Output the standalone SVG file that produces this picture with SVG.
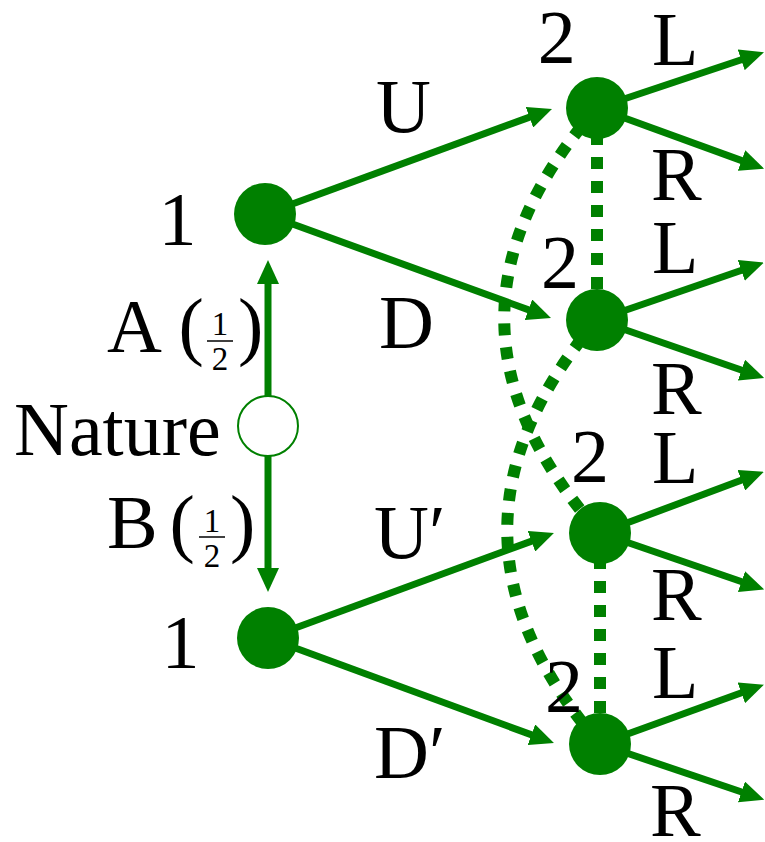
<svg xmlns="http://www.w3.org/2000/svg" width="765" height="842" viewBox="0 0 765 842">
<style>
  .t { font-size: 76px; fill: #000; }
  .f { font-size: 33px; fill: #000; text-anchor: middle; }
  .e { stroke: #008000; stroke-width: 7; fill: none; marker-end: url(#ah); }
  .d { stroke: #008000; stroke-width: 12; fill: none; stroke-dasharray: 12 12; }
  .n { fill: #008000; }
  .bar { stroke: #000; stroke-width: 1.5; }
</style>
<defs>
  <marker id="ah" markerUnits="userSpaceOnUse" viewBox="0 0 24 22" refX="12" refY="11" markerWidth="24" markerHeight="22" orient="auto">
    <path d="M0,0 L24,11 L0,22 Z" fill="#008000"/>
  </marker>
</defs>
<rect width="765" height="842" fill="#fff"/>

<g font-family="Liberation Serif, Times New Roman, serif">
<g id="connectors">
  <path class="d" d="M597,109 L597,320"/>
  <path class="d" d="M600,533 L600,744"/>
  <path class="d" d="M597,108 Q410,320 600,533"/>
  <path class="d" d="M597,320 Q416,532 600,744"/>
  <line class="e" x1="268" y1="396" x2="268" y2="272"/>
  <line class="e" x1="268" y1="456" x2="268" y2="580"/>
  <line class="e" x1="265" y1="214" x2="540.7" y2="113.1"/>
  <line class="e" x1="265" y1="214" x2="539.7" y2="313.9"/>
  <line class="e" x1="268" y1="638" x2="542.7" y2="537.1"/>
  <line class="e" x1="268" y1="638" x2="542.7" y2="738.9"/>
  <line class="e" x1="597" y1="108" x2="752.6" y2="56"/>
  <line class="e" x1="597" y1="108" x2="752.8" y2="164.6"/>
  <line class="e" x1="597" y1="320" x2="752.6" y2="266.5"/>
  <line class="e" x1="597" y1="320" x2="752.8" y2="374"/>
  <line class="e" x1="600" y1="533" x2="752.6" y2="476"/>
  <line class="e" x1="600" y1="533" x2="752.8" y2="585.5"/>
  <line class="e" x1="600" y1="744" x2="752.6" y2="688.8"/>
  <line class="e" x1="600" y1="744" x2="752.8" y2="795.8"/>
  <text class="t" x="376" y="132">U</text>
  <text class="t" x="379" y="348">D</text>
  <text class="t" x="374" y="558">U′</text>
  <text class="t" x="374" y="778">D′</text>
  <text class="t" x="652" y="65">L</text>
  <text class="t" x="651" y="200">R</text>
  <text class="t" x="652" y="273">L</text>
  <text class="t" x="651" y="414">R</text>
  <text class="t" x="652" y="483">L</text>
  <text class="t" x="651" y="620">R</text>
  <text class="t" x="652" y="698">L</text>
  <text class="t" x="650" y="836">R</text>
  <g id="labelA">
    <text class="t" x="107" y="352">A</text>
    <text class="t" x="178.5" y="351">(</text>
    <text class="f" x="220" y="335">1</text>
    <line class="bar" x1="207" y1="341" x2="233" y2="341"/>
    <text class="f" x="220" y="370">2</text>
    <text class="t" x="238" y="351">)</text>
  </g>
  <g id="labelB">
    <text class="t" x="107" y="548">B</text>
    <text class="t" x="169.5" y="548">(</text>
    <text class="f" x="212" y="532">1</text>
    <line class="bar" x1="199" y1="537" x2="225" y2="537"/>
    <text class="f" x="212" y="567">2</text>
    <text class="t" x="230" y="548">)</text>
  </g>
</g>

<g id="nature">
  <circle cx="268" cy="426" r="30" fill="#fff" stroke="#008000" stroke-width="2"/>
  <text class="t" x="14" y="455">Nature</text>
</g>
<g id="p1top">
  <circle class="n" cx="265" cy="214" r="31"/>
  <text class="t" x="158.6" y="245">1</text>
</g>
<g id="p1bottom">
  <circle class="n" cx="268" cy="638" r="31"/>
  <text class="t" x="161.6" y="668">1</text>
</g>
<g id="p2a">
  <circle class="n" cx="597" cy="108" r="31"/>
  <text class="t" x="537.7" y="63">2</text>
</g>
<g id="p2b">
  <circle class="n" cx="597" cy="320" r="31"/>
  <text class="t" x="541" y="288">2</text>
</g>
<g id="p2c">
  <circle class="n" cx="600" cy="533" r="31"/>
  <text class="t" x="571" y="482">2</text>
</g>
<g id="p2d">
  <circle class="n" cx="600" cy="744" r="31"/>
  <text class="t" x="545" y="712">2</text>
</g>
</g>
</svg>
